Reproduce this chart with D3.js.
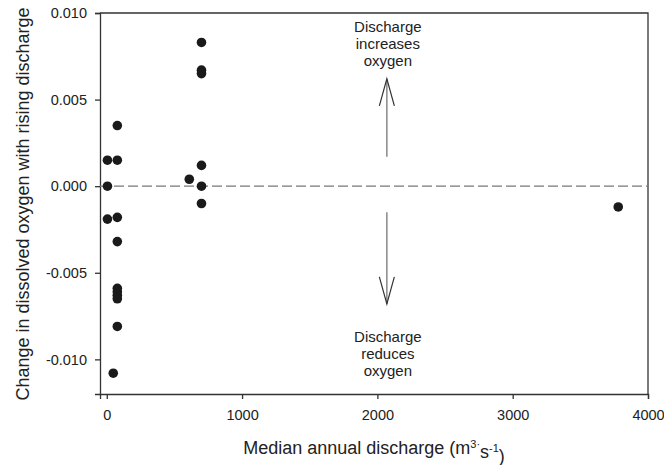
<!DOCTYPE html>
<html>
<head>
<meta charset="utf-8">
<script src="https://cdn.jsdelivr.net/npm/d3@7"></script>
<style>
  body { margin: 0; background: #fff; }
  svg text { font-family: "Liberation Sans", Arial, sans-serif; fill: #222; }
</style>
</head>
<body>
<div id="chart"></div>
<script>
let chart_width = 664;
let chart_height = 465;

// median annual discharge (m3/s) and change in dissolved oxygen, one entry per site
let discharge = [5, 78, 78, 5, 5, 78, 78, 78, 78, 78, 78, 78, 48,
                 700, 700, 700, 700, 610, 700, 700, 3780];
let oxygenChange = [0.0015, 0.0015, 0.0035, 0.0000, -0.0019, -0.0018, -0.0032,
                    -0.0059, -0.0061, -0.0063, -0.0065, -0.0081, -0.0108,
                    0.0083, 0.0067, 0.0065, 0.0012, 0.0004, 0.0000, -0.0010, -0.0012];

let xTicks = [0, 1000, 2000, 3000, 4000];
let yTicks = [-0.010, -0.005, 0.000, 0.005, 0.010];

// annotation arrows (x in discharge units, y in oxygen units)
let arrowX = 2070;
let upArrow = [0.0017, 0.0062];
let downArrow = [-0.0015, -0.0068];
let upLabel = ['Discharge', 'increases', 'oxygen'];
let downLabel = ['Discharge', 'reduces', 'oxygen'];

let xScale = d3.scaleLinear().domain([-50, 4000]).range([100, 648]);
let yScale = d3.scaleLinear().domain([-0.012, 0.010]).range([394, 13]);

let svg = d3.select('#chart')
    .append('svg')
    .attr('width', chart_width)
    .attr('height', chart_height);

// frame (top + right)
svg.append('path')
    .attr('d', 'M' + xScale.range()[0] + ',' + yScale.range()[1] +
               'H' + xScale.range()[1] + 'V' + yScale.range()[0])
    .attr('fill', 'none')
    .attr('stroke', '#333')
    .attr('stroke-width', 1.3);

let xAxis = svg.append('g')
    .attr('transform', 'translate(0,' + yScale.range()[0] + ')')
    .call(d3.axisBottom(xScale).tickValues(xTicks).tickFormat(d3.format('d'))
        .tickSizeOuter(0).tickSize(5).tickPadding(11));

let yAxis = svg.append('g')
    .attr('transform', 'translate(' + xScale.range()[0] + ',0)')
    .call(d3.axisLeft(yScale).tickValues(yTicks).tickFormat(d3.format('.3f'))
        .tickSizeOuter(0).tickSize(5).tickPadding(8));

[xAxis, yAxis].forEach(function(ax){
    ax.selectAll('path, line').attr('stroke', '#333').attr('stroke-width', 1.3);
    ax.selectAll('text')
        .style('font-family', '"Liberation Sans", Arial, sans-serif')
        .style('font-size', '14.5px')
        .attr('fill', '#222');
});
yAxis.selectAll('text').text(d => d3.format('.3f')(d).replace('\u2212', '-'));

// zero line
svg.append('line')
    .attr('x1', xScale.range()[0])
    .attr('x2', xScale.range()[1])
    .attr('y1', yScale(0))
    .attr('y2', yScale(0))
    .attr('stroke', '#777')
    .attr('stroke-width', 1.3)
    .attr('stroke-dasharray', '10,4');

// arrows
function drawArrow(range){
    let x = xScale(arrowX);
    let y0 = yScale(range[0]);
    let y1 = yScale(range[1]);
    let dir = y1 < y0 ? 1 : -1;
    svg.append('line')
        .attr('x1', x).attr('x2', x)
        .attr('y1', y0).attr('y2', y1)
        .attr('stroke', '#888')
        .attr('stroke-width', 1.5);
    svg.append('path')
        .attr('d', 'M' + (x - 7.5) + ',' + (y1 + dir * 27) + 'L' + x + ',' + y1 +
                   'L' + (x + 7.5) + ',' + (y1 + dir * 27))
        .attr('fill', 'none')
        .attr('stroke', '#333')
        .attr('stroke-width', 1.2);
}
drawArrow(upArrow);
drawArrow(downArrow);

function drawLabel(lines, yTop){
    svg.append('text')
        .attr('text-anchor', 'middle')
        .style('font-size', '15px')
        .selectAll('tspan')
        .data(lines)
        .enter()
        .append('tspan')
        .attr('x', xScale(arrowX) + 1)
        .attr('y', (d, i) => yTop + i * 17)
        .text(d => d);
}
drawLabel(upLabel, 32);
drawLabel(downLabel, 342);

// points
svg.append('g')
    .selectAll('circle')
    .data(discharge)
    .enter()
    .append('circle')
    .attr('cx', d => xScale(d))
    .attr('cy', (d, i) => yScale(oxygenChange[i]))
    .attr('r', 4.8)
    .attr('fill', '#1a1a1a');

// axis titles
let xt = svg.append('text')
    .attr('x', 374)
    .attr('y', 454)
    .attr('text-anchor', 'middle')
    .style('font-size', '18px');
xt.append('tspan').text('Median annual discharge (m');
xt.append('tspan').attr('dy', '-0.55em').style('font-size', '11px').text('3');
xt.append('tspan').style('font-size', '11px').text('\u00b7');
xt.append('tspan').attr('dy', '0.55em').text('s');
xt.append('tspan').attr('dy', '-0.55em').style('font-size', '11px').text('-1');
xt.append('tspan').attr('dy', '0.55em').text(')');

svg.append('text')
    .attr('transform', 'translate(29,204) rotate(-90)')
    .attr('text-anchor', 'middle')
    .style('font-size', '18px')
    .text('Change in dissolved oxygen with rising discharge');
</script>
</body>
</html>
